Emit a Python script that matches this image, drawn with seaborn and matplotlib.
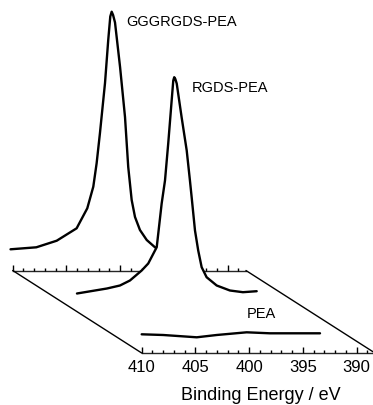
import matplotlib
matplotlib.use("Agg")
import matplotlib.pyplot as plt
import seaborn as sns
import pandas as pd
from matplotlib.patches import ConnectionPatch
from matplotlib.ticker import FixedLocator

sns.set_style("white")
plt.rcParams['font.family'] = ['Liberation Sans', 'DejaVu Sans']
plt.rcParams['text.color'] = 'black'
plt.rcParams['axes.labelcolor'] = 'black'
plt.rcParams['xtick.color'] = 'black'
plt.rcParams['axes.axisbelow'] = False

# ---------------- data (binding energy in eV, intensity in arbitrary units) ----------------
ggg_energy = [410.2, 407.8, 405.9, 404.05, 403.06, 402.5, 402.19, 401.88, 401.41, 401.11,
              400.92, 400.79, 400.66, 400.48, 400.01, 399.55, 399.25, 398.93, 398.62,
              398.16, 397.53, 396.76, 395.5, 394.0, 393.3]
ggg_intensity = [21.2, 23.2, 29.8, 42.2, 62.2, 83.8, 107.2, 137.5, 187.5, 230.5,
                 254.0, 258.8, 255.5, 248.0, 203.5, 153.5, 103.5, 70.5, 53.5,
                 40.5, 30.5, 23.2, 21.5, 21.0, 21.0]

rgds_energy = [410.02, 407.23, 406.02, 405.09, 404.0, 403.39, 402.6, 402.14, 401.83, 401.53,
               401.21, 401.06, 400.97, 400.87, 400.74, 400.28, 399.81, 399.51, 399.35,
               399.04, 398.74, 398.42, 397.96, 397.02, 395.79, 394.58, 393.3]
rgds_intensity = [18.5, 23.5, 26.5, 31.5, 41.5, 48.5, 64.8, 108.5, 131.5, 168.5,
                  211.5, 231.5, 234.8, 233.0, 228.5, 194.5, 161.5, 131.5, 114.8,
                  81.5, 61.5, 44.8, 34.8, 26.5, 21.5, 19.8, 20.8]

pea_energy = [410.0, 407.99, 404.88, 403.02, 400.23, 398.07, 395.58, 393.41]
pea_intensity = [18.7, 18.0, 15.7, 18.0, 20.7, 19.7, 19.7, 19.7]

series_labels = ["GGGRGDS-PEA", "RGDS-PEA", "PEA"]
tick_values = [410, 405, 400, 395, 390]
minor_tick_values = [e for e in range(389, 410) if e % 5 != 0]
x_label = "Binding Energy / eV"

# ---------------- figure / pseudo-3D layered axes ----------------
W, H = 373, 405
fig = plt.figure(figsize=(W / 100, H / 100), dpi=100)
E_LEFT, E_RIGHT = 423.18, 388.48
H_LOW, H_HIGH = -52, 353
AXIS_END = 388.3
layer_shift = [(-129, 82.5), (-64.5, 41), (0, 0)]  # back, middle, front (pixels)

axes = []
for i, (dx, dy) in enumerate(layer_shift):
    ax = fig.add_axes([dx / W, dy / H, 1, 1])
    ax.set_zorder(i)
    ax.set_xlim(E_LEFT, E_RIGHT)
    ax.set_ylim(H_LOW, H_HIGH)
    ax.patch.set_visible(False)
    for s in ax.spines.values():
        s.set_visible(False)
    ax.set_yticks([])
    ax.set_xticks([])
    axes.append(ax)

back_ax, mid_ax, front_ax = axes

for ax, show_labels in [(back_ax, False), (front_ax, True)]:
    sp = ax.spines['bottom']
    sp.set_visible(True)
    sp.set_position(('data', 0))
    sp.set_bounds(410, AXIS_END)
    sp.set_linewidth(1.0)
    ax.xaxis.set_major_locator(FixedLocator(tick_values))
    ax.xaxis.set_minor_locator(FixedLocator(minor_tick_values))
    ax.set_xticklabels([str(v) for v in tick_values])
    ax.tick_params(axis='x', which='major', direction='in', length=4.5, width=1.0,
                   pad=5, labelsize=12, bottom=True, labelbottom=show_labels,
                   color='black', labelcolor='black')
    ax.tick_params(axis='x', which='minor', direction='in', length=2.2, width=1.0,
                   bottom=True, color='black')

# spectra
dfs = [
    pd.DataFrame({"energy": ggg_energy, "intensity": ggg_intensity}),
    pd.DataFrame({"energy": rgds_energy, "intensity": rgds_intensity}),
    pd.DataFrame({"energy": pea_energy, "intensity": pea_intensity}),
]
# the middle spectrum hides what lies behind it
mid_ax.fill_between(dfs[1]["energy"].to_numpy(), dfs[1]["intensity"].to_numpy(), 5,
                    facecolor="white", edgecolor="none", zorder=1)
for ax, df in zip(axes, dfs):
    sns.lineplot(data=df, x="energy", y="intensity", ax=ax, color="black",
                 lw=1.7, estimator=None, sort=True, zorder=3)
    ax.set_xlabel("")
    ax.set_ylabel("")

# series labels
back_ax.text(399.4, 248.5, series_labels[0], fontsize=10.5, ha="left", va="center", color="black")
mid_ax.text(399.35, 223.5, series_labels[1], fontsize=10.5, ha="left", va="center", color="black")
front_ax.text(400.2, 38.5, series_labels[2], fontsize=10.5, ha="left", va="center", color="black")

# x label
front_ax.set_xlabel(x_label, fontsize=13, color="black")
front_ax.xaxis.set_label_coords(261 / W, (H - 399.5) / H)
front_ax.xaxis.label.set_va("baseline")

# floor edges connecting back and front axes
for e in (410, AXIS_END):
    con = ConnectionPatch(xyA=(e, 0), coordsA=back_ax.transData,
                          xyB=(e, 0), coordsB=front_ax.transData,
                          color="black", lw=1.0, zorder=10)
    fig.add_artist(con)

fig.savefig("out.png", dpi=100, facecolor="white")
